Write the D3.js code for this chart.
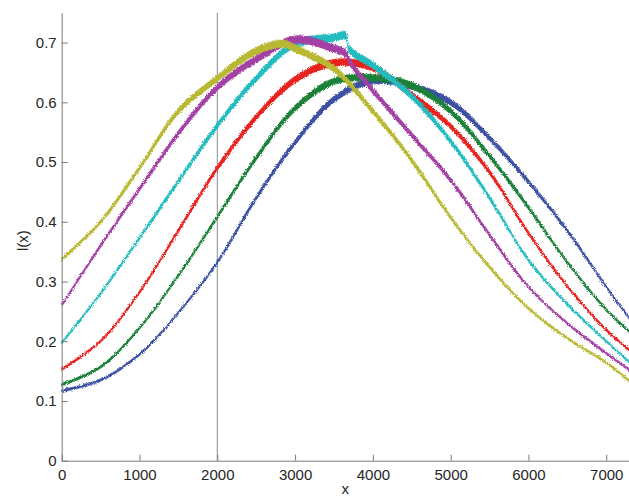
<!DOCTYPE html>
<html>
<head>
<meta charset="utf-8">
<script src="https://cdn.jsdelivr.net/npm/d3@7"></script>
<style>
  body { margin: 0; background: #fff; }
  svg { display: block; font-family: "Liberation Sans", Arial, Helvetica, sans-serif; }
</style>
</head>
<body>
<script>
// values, [x, l(x)] per curve
const blue = [[0,0.117],[500,0.135],[1000,0.178],[1500,0.248],[2000,0.332],[2500,0.44],[3000,0.533],
  [3500,0.605],[4000,0.636],[4500,0.627],[5000,0.6],[5500,0.54],[6000,0.467],[6500,0.385],[7000,0.291],[7300,0.238]];
const green = [[0,0.127],[500,0.157],[1000,0.222],[1500,0.31],[2000,0.408],[2500,0.507],[3000,0.59],
  [3500,0.635],[4000,0.641],[4500,0.628],[5000,0.585],[5500,0.51],[6000,0.424],[6500,0.332],[7000,0.253],[7300,0.216]];
const red = [[0,0.153],[500,0.2],[1000,0.282],[1500,0.385],[2000,0.49],[2500,0.575],[3000,0.638],
  [3500,0.666],[4000,0.658],[4500,0.612],[5000,0.56],[5500,0.483],[6000,0.381],[6500,0.292],[7000,0.219],[7300,0.185]];
const cyan = [[0,0.197],[500,0.28],[1000,0.373],[1500,0.468],[2000,0.561],[2500,0.64],[3000,0.698],
  [3500,0.708],[3650,0.712],[3700,0.688],[4000,0.662],[4500,0.61],[5000,0.535],[5500,0.44],[6000,0.336],
  [6500,0.262],[7000,0.2],[7300,0.165]];
const purple = [[0,0.26],[500,0.36],[1000,0.455],[1500,0.548],[2000,0.625],[2500,0.672],[3000,0.705],
  [3500,0.69],[3650,0.682],[3700,0.668],[4000,0.62],[4500,0.545],[5000,0.47],[5500,0.378],[6000,0.291],
  [6500,0.23],[7000,0.18],[7300,0.152]];
const yellow = [[0,0.337],[500,0.4],[1000,0.49],[1500,0.585],[2000,0.64],[2500,0.686],[2850,0.698],
  [3000,0.69],[3500,0.656],[4000,0.585],[4500,0.503],[5000,0.407],[5500,0.324],[6000,0.255],
  [6500,0.205],[7000,0.164],[7300,0.133]];

const seriesList = [blue, green, red, cyan, purple, yellow];
const colors = ['#3a4fa3', '#1a8038', '#e8201e', '#22bcc0', '#a33fa3', '#b8b832'];

const xTicks = [0, 1000, 2000, 3000, 4000, 5000, 6000, 7000];
const yTicks = [0, 0.1, 0.2, 0.3, 0.4, 0.5, 0.6, 0.7];
const markerX = 2000;

const width = 629, height = 498;
const svg = d3.select('body').append('svg')
  .attr('width', width)
  .attr('height', height);

const x = d3.scaleLinear().domain([0, 7300]).range([61.7, 629.6]);
const y = d3.scaleLinear().domain([0, 0.75]).range([460.7, 12.7]);

// rough edge, to look like the noisy traces
const defs = svg.append('defs');
const filt = defs.append('filter').attr('id', 'rough')
  .attr('x', '-5%').attr('y', '-5%').attr('width', '110%').attr('height', '110%');
filt.append('feTurbulence')
  .attr('type', 'fractalNoise')
  .attr('baseFrequency', '0.9')
  .attr('numOctaves', 2)
  .attr('result', 'n');
filt.append('feDisplacementMap')
  .attr('in', 'SourceGraphic')
  .attr('in2', 'n')
  .attr('scale', 3.5)
  .attr('xChannelSelector', 'R')
  .attr('yChannelSelector', 'G');

// vertical line at x = 2000
svg.append('line')
  .attr('x1', x(markerX)).attr('x2', x(markerX))
  .attr('y1', y(0.75)).attr('y2', y(0))
  .attr('stroke', '#8a8a8a')
  .attr('stroke-width', 1);

// traces get thicker (noisier) near the top
const halfW = (v) => 1.3 + 7 * Math.pow(Math.max(0, v - 0.2), 1.5);

const band = d3.area()
  .x((d) => x(d[0]))
  .y0((d) => y(d[1]) - halfW(d[1]))
  .y1((d) => y(d[1]) + halfW(d[1]))
  .curve(d3.curveCatmullRom.alpha(0.5));

const g = svg.append('g').attr('filter', 'url(#rough)');
seriesList.forEach((s, i) => {
  g.append('path')
    .datum(s)
    .attr('fill', colors[i])
    .attr('stroke', colors[i])
    .attr('stroke-width', 0.6)
    .attr('d', band);
});

// axes, MATLAB style ticks pointing inward
const xAxis = d3.axisBottom(x)
  .tickValues(xTicks)
  .tickSize(-6)
  .tickSizeOuter(0)
  .tickPadding(9)
  .tickFormat(d3.format('d'));
const yAxis = d3.axisLeft(y)
  .tickValues(yTicks)
  .tickSize(-6)
  .tickSizeOuter(0)
  .tickPadding(5)
  .tickFormat((d) => (d === 0 ? '0' : d.toFixed(1)));

const gx = svg.append('g')
  .attr('transform', `translate(0,${y(0)})`)
  .call(xAxis);
const gy = svg.append('g')
  .attr('transform', `translate(${x(0)},0)`)
  .call(yAxis);

[gx, gy].forEach((ax) => {
  ax.select('.domain').attr('stroke', '#7a7a7a');
  ax.selectAll('.tick line').attr('stroke', '#7a7a7a');
  ax.selectAll('.tick text')
    .attr('fill', '#262626')
    .style('font-size', '15px')
    .style('font-family', '"Liberation Sans", Arial, sans-serif');
});

// axis titles
svg.append('text')
  .attr('x', (x(0) + width) / 2)
  .attr('y', 494)
  .attr('text-anchor', 'middle')
  .attr('fill', '#262626')
  .style('font-size', '15px')
  .text('x');

svg.append('text')
  .attr('transform', `translate(28,${(y(0) + y(0.75)) / 2 + 4}) rotate(-90)`)
  .attr('text-anchor', 'middle')
  .attr('fill', '#262626')
  .style('font-size', '15px')
  .text('l(x)');
</script>
</body>
</html>
